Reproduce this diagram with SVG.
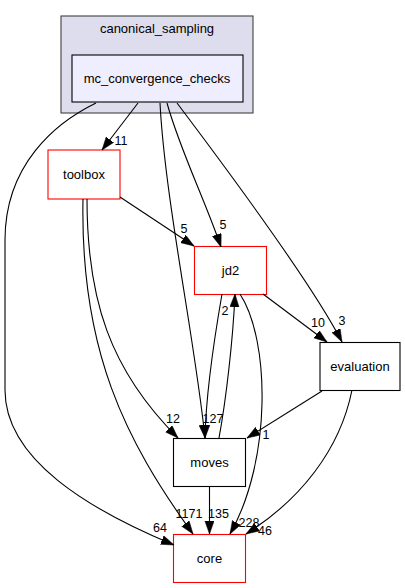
<svg xmlns="http://www.w3.org/2000/svg" width="405" height="588" viewBox="0 0 405 588">
<style>
text{font-family:"Liberation Sans",Arial,sans-serif;fill:#000}
.nl{font-size:13px;text-anchor:middle}
.el{font-size:12.5px;text-anchor:middle}
.e{fill:none;stroke:#000;stroke-width:1.1;marker-end:url(#ah)}
.red{fill:#fff;stroke:#ff0000;stroke-width:1.1}
.blk{fill:#fff;stroke:#000;stroke-width:1.1}
</style>
<defs>
<marker id="ah" markerUnits="userSpaceOnUse" markerWidth="14" markerHeight="10" refX="13" refY="4.6" orient="auto">
<path d="M0,0 L13,4.6 L0,9.2 z" fill="#000" stroke="#000" stroke-width="0.5"/>
</marker>
</defs>
<rect width="405" height="588" fill="#fff"/>
<g id="cluster_canonical_sampling">
<rect x="61" y="16" width="192" height="97" fill="#ddddee" stroke="#404040" stroke-width="1.1"/>
<text class="nl" x="157" y="33">canonical_sampling</text>
</g>
<g id="node_mc_convergence_checks">
<rect x="72" y="55" width="171" height="47" fill="#eeeeff" stroke="#000" stroke-width="1.1"/>
<text class="nl" x="157" y="83">mc_convergence_checks</text>
</g>
<g id="node_toolbox">
<rect class="red" x="48" y="150" width="72" height="49"/>
<text class="nl" x="84" y="179">toolbox</text>
</g>
<g id="node_jd2">
<rect class="red" x="194.5" y="246.5" width="72" height="48"/>
<text class="nl" x="230.5" y="275">jd2</text>
</g>
<g id="node_evaluation">
<rect class="blk" x="320" y="342.5" width="80" height="48"/>
<text class="nl" x="360" y="371">evaluation</text>
</g>
<g id="node_moves">
<rect class="blk" x="173.5" y="438.5" width="72" height="48"/>
<text class="nl" x="209.5" y="467">moves</text>
</g>
<g id="node_core">
<rect class="red" x="173.5" y="534.5" width="72" height="48"/>
<text class="nl" x="209.5" y="563">core</text>
</g>
<g id="connectors">
<path class="e" d="M138,103 L102,150"/>
<text class="el" x="121" y="145">11</text>
<path class="e" d="M96,103 C55,123 5,165 5,240 L5,390 C5,460 90,510 174,545"/>
<text class="el" x="160" y="532">64</text>
<path class="e" d="M160,103 C165,200 195,340 205,438"/>
<path class="e" d="M167,103 C180,150 205,200 221,247"/>
<text class="el" x="223" y="229">5</text>
<path class="e" d="M177,103 C220,160 310,280 342,342"/>
<text class="el" x="342" y="325">3</text>
<path class="e" d="M120,197 L194,246"/>
<text class="el" x="184" y="233">5</text>
<path class="e" d="M87,199 C87,300 110,370 178,438"/>
<text class="el" x="173" y="423">12</text>
<path class="e" d="M83,199 C80,350 125,440 193,534"/>
<text class="el" x="189" y="518">1171</text>
<path class="e" d="M222,294 C214,340 206,390 205,438"/>
<text class="el" x="213" y="423">127</text>
<path class="e" d="M219,438 C226,400 233,340 235,294"/>
<text class="el" x="225" y="315">2</text>
<path class="e" d="M263,294 L327,342"/>
<text class="el" x="318" y="327">10</text>
<path class="e" d="M240,294 C270,340 272,460 230,534"/>
<text class="el" x="249" y="527">228</text>
<path class="e" d="M322,391 L247,438"/>
<text class="el" x="266" y="439">1</text>
<path class="e" d="M352,390 C340,450 300,500 246,534"/>
<text class="el" x="265" y="535">46</text>
<path class="e" d="M209.5,487 L209.5,534"/>
<text class="el" x="218.5" y="518">135</text>
</g>
</svg>
